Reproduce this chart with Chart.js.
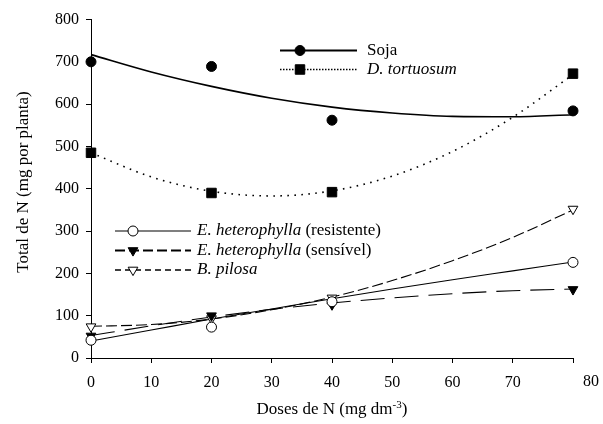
<!DOCTYPE html>
<html><head><meta charset="utf-8">
<script src="https://cdn.jsdelivr.net/npm/chart.js@4.4.0/dist/chart.umd.min.js"></script>
<style>html,body{margin:0;padding:0;background:#fff}#wrap{width:603px;height:424px;position:relative}</style>
</head><body><div id="wrap"><canvas id="c" width="603" height="424"></canvas></div>
<script>
// ---- data ----
const doses = [0, 20, 40, 80];
const soja = [700, 689, 562, 584];
const tortuosum = [485, 390, 392, 672];
const resistente = [42, 73, 133, 226];
const sensivel = [52, 100, 126, 162];
const pilosa = [74, 93, 142, 352];
// fitted curves as drawn in the picture (read at each 10 units)
const trendDoses = [0, 10, 20, 30, 40, 50, 60, 70, 80];
const sojaTrend = [717, 676, 642, 614, 593, 579, 571, 570, 575];
const tortuosumTrend = [485, 428, 394, 383, 395, 430, 488, 569, 670];
const resistenteTrend = [40, 66, 92, 116, 140, 163, 185, 206, 227];
const sensivelTrend = [53, 76, 97, 115, 130, 142, 152, 159, 163];
const pilosaTrend = [75, 79, 92, 114, 144, 183, 230, 285, 350];
const xTicks = [0, 10, 20, 30, 40, 50, 60, 70, 80];
const yTicks = [0, 100, 200, 300, 400, 500, 600, 700, 800];
const xTitleMain = 'Doses de N (mg dm';
const xTitleSup = '-3';
const xTitleEnd = ')';
const yTitle = 'Total de N (mg por planta)';
const names = [
  [['Soja', false]],
  [['D. tortuosum', true]],
  [['E. heterophylla', true], [' (resistente)', false]],
  [['E. heterophylla', true], [' (sensível)', false]],
  [['B. pilosa', true]]
];

const FONT = 'Liberation Serif, Times New Roman, serif';
const pts = (xs, ys) => xs.map((x, i) => ({x: x, y: ys[i]}));

const styles = [
  {pointStyle: 'circle', radius: 5, fill: '#000', dash: [], width: 1.6, legendDash: [], legendWidth: 2},
  {pointStyle: 'rect', radius: 6.7, fill: '#000', dash: [1.6, 5.4], width: 1.6, legendDash: [1.5, 1.5], legendWidth: 1.3},
  {pointStyle: 'circle', radius: 5, fill: '#fff', dash: [], width: 1.1, legendDash: [], legendWidth: 1.2},
  {pointStyle: 'triangle', radius: 5.6, fill: '#000', dash: [24, 10], width: 1.1, legendDash: [10, 4], legendWidth: 1.8},
  {pointStyle: 'triangle', radius: 5.6, fill: '#fff', dash: [11, 4], width: 1.1, legendDash: [6, 4], legendWidth: 1.6}
];
const seriesPts = [soja, tortuosum, resistente, sensivel, pilosa];
const seriesTrend = [sojaTrend, tortuosumTrend, resistenteTrend, sensivelTrend, pilosaTrend];

const datasets = [];
seriesTrend.forEach((t, i) => {
  datasets.push({
    data: pts(trendDoses, t), showLine: true, borderColor: '#000',
    borderWidth: styles[i].width, borderDash: styles[i].dash,
    pointRadius: 0, cubicInterpolationMode: 'monotone', fill: false, order: 2, clip: false
  });
});
seriesPts.forEach((s, i) => {
  datasets.push({
    data: pts(doses, s), showLine: false,
    pointStyle: styles[i].pointStyle, pointRadius: styles[i].radius,
    pointRotation: styles[i].pointStyle === 'triangle' ? 180 : 0,
    pointBackgroundColor: styles[i].fill, pointBorderColor: '#000', pointBorderWidth: 1,
    order: 1, clip: false
  });
});

function marker(ctx, st, x, y) {
  ctx.save();
  ctx.setLineDash([]);
  ctx.lineWidth = 1;
  ctx.strokeStyle = '#000';
  ctx.fillStyle = st.fill;
  ctx.beginPath();
  const r = st.radius;
  if (st.pointStyle === 'circle') {
    ctx.arc(x, y, r, 0, Math.PI * 2);
  } else if (st.pointStyle === 'rect') {
    const s = Math.SQRT1_2 * r;
    ctx.rect(x - s, y - s, 2 * s, 2 * s);
  } else {
    ctx.moveTo(x, y + r);
    ctx.lineTo(x - r * 0.866, y - r * 0.5);
    ctx.lineTo(x + r * 0.866, y - r * 0.5);
    ctx.closePath();
  }
  ctx.fill();
  ctx.stroke();
  ctx.restore();
}

const deco = {
  id: 'deco',
  afterDraw(chart) {
    const ctx = chart.ctx;
    const a = chart.chartArea;
    const xs = chart.scales.x;
    ctx.save();
    ctx.fillStyle = '#000';
    ctx.textBaseline = 'middle';
    // last x tick label, placed to the right of its tick as in the picture
    ctx.font = '16px ' + FONT;
    ctx.textAlign = 'center';
    ctx.fillText(String(xTicks[xTicks.length - 1]), xs.getPixelForValue(xTicks[xTicks.length - 1]) + 18, a.bottom + 23.5);
    // x title
    ctx.font = '17px ' + FONT;
    const w1 = ctx.measureText(xTitleMain).width;
    ctx.font = '11px ' + FONT;
    const w2 = ctx.measureText(xTitleSup).width;
    ctx.font = '17px ' + FONT;
    const w3 = ctx.measureText(xTitleEnd).width;
    let x0 = (a.left + a.right) / 2 - (w1 + w2 + w3) / 2;
    const ty = 410;
    ctx.textAlign = 'left';
    ctx.fillText(xTitleMain, x0, ty);
    ctx.font = '11px ' + FONT;
    ctx.fillText(xTitleSup, x0 + w1, ty - 5);
    ctx.font = '17px ' + FONT;
    ctx.fillText(xTitleEnd, x0 + w1 + w2, ty);
    // y title
    ctx.save();
    ctx.translate(24, 182);
    ctx.rotate(-Math.PI / 2);
    ctx.textAlign = 'center';
    ctx.font = '17px ' + FONT;
    ctx.fillText(yTitle, 0, 0);
    ctx.restore();
    // legends
    const boxes = [
      {x1: 280, x2: 357, mx: 300, tx: 367, ys: [50.5, 69.5], idx: [0, 1]},
      {x1: 115, x2: 191, mx: 133, tx: 197, ys: [231, 250.5, 270], idx: [2, 3, 4]}
    ];
    boxes.forEach(b => {
      b.idx.forEach((k, j) => {
        const y = b.ys[j];
        const st = styles[k];
        ctx.save();
        ctx.strokeStyle = '#000';
        ctx.lineWidth = st.legendWidth;
        ctx.setLineDash(st.legendDash);
        ctx.beginPath();
        ctx.moveTo(b.x1, y);
        ctx.lineTo(b.x2, y);
        ctx.stroke();
        ctx.restore();
        marker(ctx, st, b.mx, y);
        let tx = b.tx;
        names[k].forEach(p => {
          ctx.font = (p[1] ? 'italic ' : '') + '17px ' + FONT;
          ctx.textAlign = 'left';
          ctx.fillText(p[0], tx, y);
          tx += ctx.measureText(p[0]).width;
        });
      });
    });
    ctx.restore();
  }
};

new Chart(document.getElementById('c'), {
  type: 'line',
  data: {datasets: datasets},
  plugins: [deco],
  options: {
    responsive: false,
    animation: false,
    devicePixelRatio: 1,
    layout: {padding: {left: 0, right: 30, top: 19.5, bottom: 0}},
    plugins: {legend: {display: false}, tooltip: {enabled: false}, title: {display: false}},
    scales: {
      x: {
        type: 'linear', min: 0, max: 80,
        afterBuildTicks: s => { s.ticks = xTicks.map(v => ({value: v})); },
        ticks: {font: {family: FONT, size: 16}, color: '#000', padding: 10, maxRotation: 0, autoSkip: false,
                callback: v => (v === xTicks[xTicks.length - 1] ? '' : String(v))},
        grid: {drawOnChartArea: false, drawTicks: true, tickLength: 5, color: '#000', lineWidth: 1},
        border: {display: true, color: '#000', width: 1},
        afterFit: s => { s.height = 66; }
      },
      y: {
        type: 'linear', min: 0, max: 800,
        afterBuildTicks: s => { s.ticks = yTicks.map(v => ({value: v})); },
        ticks: {font: {family: FONT, size: 16}, color: '#000', padding: 7, autoSkip: false},
        grid: {drawOnChartArea: false, drawTicks: true, tickLength: 5, color: '#000', lineWidth: 1},
        border: {display: true, color: '#000', width: 1},
        afterFit: s => { s.width = 91; }
      }
    }
  }
});
</script></body></html>
